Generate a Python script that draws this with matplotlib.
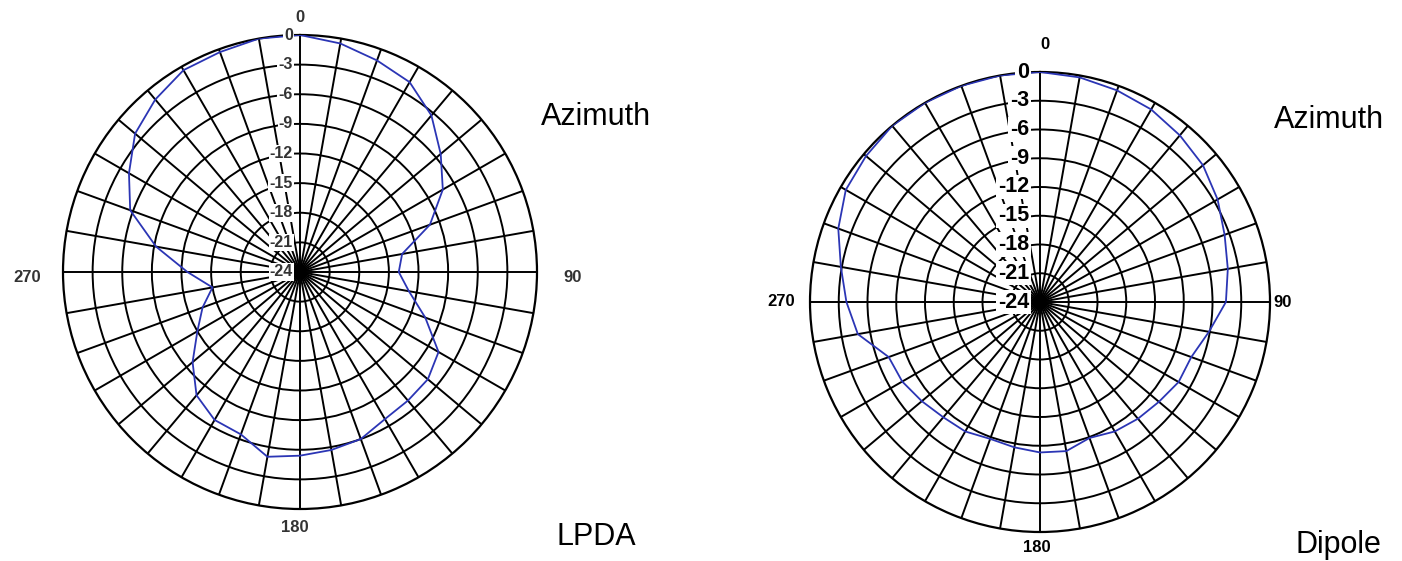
import matplotlib.pyplot as plt
import numpy as np

# Azimuth angles (deg, clockwise from north) and measured gain (dB)
angles = list(range(0, 360, 10))
lpda_db = [0, -0.5, -1.2, -1.8, -3.3, -5.4, -7.3, -10.0, -13.5, -14.0,
           -12.8, -10.5, -7.8, -7.1, -7.0, -6.8, -6.0, -5.7, -5.4, -5.0,
           -6.5, -6.7, -7.7, -9.8, -12.0, -13.5, -15.0, -12.6, -9.2, -5.7,
           -4.0, -2.2, -1.2, -0.4, -0.3, 0]
dipole_db = [0, -0.2, -0.5, -0.8, -1.3, -1.8, -2.6, -3.5, -4.1, -4.6,
             -6.1, -7.2, -7.3, -7.8, -8.1, -8.4, -8.9, -8.2, -8.3, -8.6,
             -8.8, -8.4, -8.3, -7.9, -7.4, -7.2, -4.7, -3.8, -2.9, -1.6,
             -0.6, -0.3, 0, 0, 0, 0]
ring_levels = [0, -3, -6, -9, -12, -15, -18, -21, -24]
dir_labels = ['0', '90', '180', '270']

W, H = 1402, 561
fig = plt.figure(figsize=(W / 100, H / 100), dpi=100)
plt.rcParams['font.family'] = ['Liberation Sans', 'DejaVu Sans']


def px_axes(cx, cy, r):
    return fig.add_axes([(cx - r) / W, (H - cy - r) / H, 2 * r / W, 2 * r / H],
                        projection='polar')


def setup(ax):
    ax.set_theta_zero_location('N')
    ax.set_theta_direction(-1)
    ax.set_ylim(-24, 0)
    ax.set_thetagrids(angles, labels=[])
    ax.set_rgrids([-21, -18, -15, -12, -9, -6, -3], labels=[])
    ax.grid(True, color='black', lw=1.4, ls='-')
    ax.spines['polar'].set_color('black')
    ax.spines['polar'].set_linewidth(1.6)
    ax.tick_params(length=0)


def draw_pattern(ax, vals):
    th = np.deg2rad(angles + [angles[0]])
    ax.plot(th, vals + [vals[0]], color='#2b35b5', lw=1.3, zorder=4)


def ring_labels(ax, size, color, off):
    for lv in ring_levels:
        ax.annotate(str(lv), xy=(0, lv), xytext=(-off, 0), textcoords='offset points',
                    ha='right', va='center', fontsize=size, fontweight='bold', color=color,
                    bbox=dict(boxstyle='square,pad=0.08', fc='white', ec='none'), zorder=5)


def dir_text(ax, pos, size, color):
    for lab, (x, y) in zip(dir_labels, pos):
        ax.text(x, y, lab, transform=ax.transAxes, ha='center', va='center',
                fontsize=size, fontweight='bold', color=color)


# Left: LPDA
ax1 = px_axes(300, 272, 237)
setup(ax1)
draw_pattern(ax1, lpda_db)
ring_labels(ax1, 11.5, '#333333', 5)
dir_text(ax1, [(0.5, 1.036), (1.074, 0.489), (0.49, -0.038), (-0.076, 0.489)], 12, '#333333')

# Right: Dipole
ax2 = px_axes(1040, 302, 230)
setup(ax2)
draw_pattern(ax2, dipole_db)
ring_labels(ax2, 15.5, 'black', 8)
dir_text(ax2, [(0.511, 1.059), (1.028, 0.498), (0.493, -0.033), (-0.063, 0.502)], 12, 'black')

fig.text(596 / W, 1 - 117 / H, 'Azimuth', ha='center', va='center', fontsize=22)
fig.text(1329 / W, 1 - 120 / H, 'Azimuth', ha='center', va='center', fontsize=22)
fig.text(596 / W, 1 - 537 / H, 'LPDA', ha='center', va='center', fontsize=22)
fig.text(1338 / W, 1 - 545 / H, 'Dipole', ha='center', va='center', fontsize=22)

fig.savefig('out.png', dpi=100)
